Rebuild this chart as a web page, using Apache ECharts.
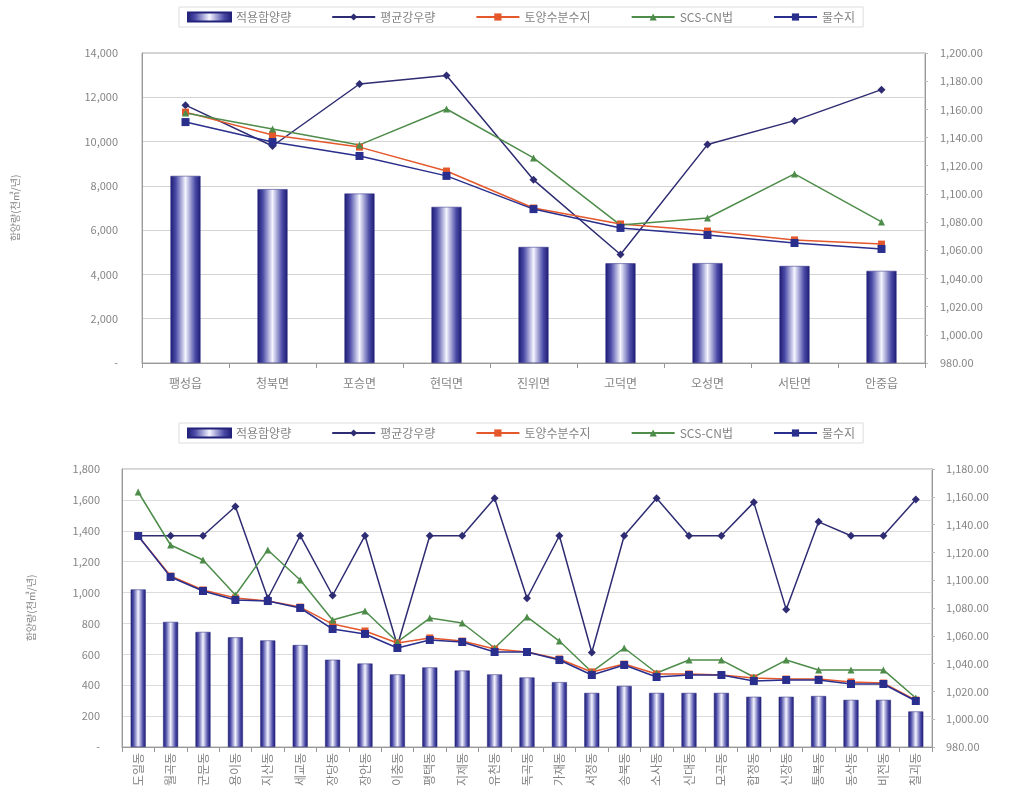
<!DOCTYPE html>
<html>
<head>
<meta charset="utf-8">
<script src="https://cdn.jsdelivr.net/npm/echarts@6/dist/echarts.min.js"></script>
<style>
  html, body { margin: 0; padding: 0; background: #fff; }
  #Chart { width: 1023px; height: 808px; }
</style>
</head>
<body>
<div id="Chart"></div>
<script>
// 읍면 (top)
var topCats = ['팽성읍', '청북면', '포승면', '현덕면', '진위면', '고덕면', '오성면', '서탄면', '안중읍'];
var topRecharge = [8450, 7850, 7650, 7050, 5240, 4500, 4510, 4380, 4160];
var topRain = [1163, 1134, 1178, 1184, 1110, 1057, 1135, 1152, 1174];
var topSoil = [11330, 10300, 9750, 8670, 7000, 6280, 5960, 5560, 5370];
var topScs = [11290, 10570, 9850, 11470, 9260, 6230, 6550, 8540, 6370];
var topWater = [10880, 9980, 9350, 8450, 6950, 6100, 5780, 5420, 5150];

// 동 (bottom)
var botCats = ['도일동', '월곡동', '군문동', '용이동', '지산동', '세교동', '장당동', '장안동', '이충동',
  '평택동', '지제동', '유천동', '독곡동', '가재동', '서정동', '송북동', '소사동', '신대동', '모곡동',
  '합정동', '신장동', '통복동', '동삭동', '비전동', '칠괴동'];
var botRecharge = [1020, 810, 745, 710, 690, 660, 565, 540, 470, 515, 495, 470, 450, 420, 350, 395,
  350, 350, 350, 325, 325, 330, 305, 305, 230];
var botRain = [1132, 1132, 1132, 1153, 1087, 1132, 1089, 1132, 1053, 1132, 1132, 1159, 1087, 1132,
  1048, 1132, 1159, 1132, 1132, 1156, 1079, 1142, 1132, 1132, 1158];
var botSoil = [1366, 1107, 1017, 965, 945, 906, 796, 751, 673, 706, 686, 634, 615, 570, 486, 537,
  473, 473, 466, 447, 440, 440, 421, 414, 304];
var botScs = [1651, 1308, 1211, 984, 1276, 1081, 822, 881, 680, 835, 803, 641, 842, 686, 486, 641,
  479, 563, 563, 453, 563, 499, 499, 499, 317];
var botWater = [1366, 1101, 1010, 952, 945, 900, 764, 732, 641, 693, 680, 615, 615, 563, 466, 531,
  453, 466, 466, 427, 434, 434, 408, 408, 298];

var seriesNames = ['적용함양량', '평균강우량', '토양수분수지', 'SCS-CN법', '물수지'];

var txt = '#858585';
var font = '"Noto Sans CJK KR", "Noto Sans", sans-serif';

var barColor = new echarts.graphic.LinearGradient(0, 0, 1, 0, [
  {offset: 0, color: '#1c1c74'},
  {offset: 0.18, color: '#4c4ca8'},
  {offset: 0.5, color: '#f4f4ff'},
  {offset: 0.82, color: '#4c4ca8'},
  {offset: 1, color: '#1c1c74'}
]);

function fmtInt(v) {
  if (v === 0) return '-';
  return v.toString().replace(/\B(?=(\d{3})+(?!\d))/g, ',');
}
function fmtDec(v) {
  var s = v.toFixed(2).split('.');
  return s[0].replace(/\B(?=(\d{3})+(?!\d))/g, ',') + '.' + s[1];
}

function makeLegend(top) {
  return {
    left: 179,
    top: top,
    padding: [4, 8],
    borderColor: '#ddd',
    borderWidth: 1,
    itemWidth: 43,
    itemHeight: 9,
    itemGap: 40,
    textStyle: {color: txt, fontSize: 12, fontFamily: font},
    data: [
      {name: seriesNames[0], icon: 'rect'},
      seriesNames[1], seriesNames[2], seriesNames[3], seriesNames[4]
    ]
  };
}

function makeSeries(idx, bw, rech, rain, soil, scs, water) {
  var line = function (name, data, color, symbol, size, yIdx) {
    return {
      name: name, type: 'line', xAxisIndex: idx, yAxisIndex: yIdx, data: data,
      symbol: symbol, symbolSize: size, z: 3,
      lineStyle: {color: color, width: 1.5},
      itemStyle: {color: color}
    };
  };
  return [
    {
      name: seriesNames[0], type: 'bar', xAxisIndex: idx, yAxisIndex: idx * 2, data: rech,
      barWidth: bw, itemStyle: {color: barColor, borderColor: '#22227a', borderWidth: 0.5}
    },
    line(seriesNames[1], rain, '#2e2c72', 'diamond', 8, idx * 2 + 1),
    line(seriesNames[2], soil, '#e4582c', 'rect', 7, idx * 2),
    line(seriesNames[3], scs, '#4e8c4a', 'triangle', 7, idx * 2),
    line(seriesNames[4], water, '#2a2e8c', 'rect', 8, idx * 2)
  ];
}

var myChart = echarts.init(document.getElementById('Chart'));

var axisLabelStyle = {color: txt, fontSize: 11, fontFamily: font};

var option = {
  animation: false,
  legend: [makeLegend(7), makeLegend(423)],
  grid: [
    {left: 142, right: 98, top: 53, height: 310, show: true, borderColor: '#aaa', borderWidth: 1},
    {left: 122, right: 91, top: 469, height: 278, show: true, borderColor: '#aaa', borderWidth: 1}
  ],
  xAxis: [
    {
      type: 'category', gridIndex: 0, data: topCats,
      axisLine: {lineStyle: {color: '#999'}},
      axisTick: {show: true, lineStyle: {color: '#999'}},
      axisLabel: {color: txt, fontFamily: font, fontSize: 12, margin: 14}
    },
    {
      type: 'category', gridIndex: 1, data: botCats,
      axisLine: {lineStyle: {color: '#999'}},
      axisTick: {show: true, lineStyle: {color: '#999'}},
      axisLabel: {color: txt, fontFamily: font, fontSize: 12, rotate: 90, margin: 6, interval: 0}
    }
  ],
  yAxis: [
    {
      type: 'value', gridIndex: 0, min: 0, max: 14000, interval: 2000,
      name: '함양량(천㎥/년)', nameLocation: 'middle', nameRotate: 90, nameGap: 122,
      nameTextStyle: {color: txt, fontSize: 10, fontFamily: font},
      axisLine: {show: true, lineStyle: {color: '#999'}},
      axisTick: {show: false},
      splitLine: {lineStyle: {color: '#d4d4d4'}},
      axisLabel: Object.assign({margin: 24, formatter: fmtInt}, axisLabelStyle)
    },
    {
      type: 'value', gridIndex: 0, min: 980, max: 1200, interval: 20, position: 'right',
      axisLine: {show: true, lineStyle: {color: '#999'}},
      axisTick: {show: true, length: 3, lineStyle: {color: '#bbb'}},
      splitLine: {show: false},
      axisLabel: Object.assign({margin: 15, formatter: fmtDec}, axisLabelStyle)
    },
    {
      type: 'value', gridIndex: 1, min: 0, max: 1800, interval: 200,
      name: '함양량(천㎥/년)', nameLocation: 'middle', nameRotate: 90, nameGap: 86,
      nameTextStyle: {color: txt, fontSize: 10, fontFamily: font},
      axisLine: {show: true, lineStyle: {color: '#999'}},
      axisTick: {show: false},
      splitLine: {lineStyle: {color: '#dcdcdc'}},
      axisLabel: Object.assign({margin: 22, formatter: fmtInt}, axisLabelStyle)
    },
    {
      type: 'value', gridIndex: 1, min: 980, max: 1180, interval: 20, position: 'right',
      axisLine: {show: true, lineStyle: {color: '#999'}},
      axisTick: {show: true, length: 3, lineStyle: {color: '#bbb'}},
      splitLine: {show: false},
      axisLabel: Object.assign({margin: 14, formatter: fmtDec}, axisLabelStyle)
    }
  ],
  series: makeSeries(0, 30, topRecharge, topRain, topSoil, topScs, topWater)
    .concat(makeSeries(1, 15, botRecharge, botRain, botSoil, botScs, botWater))
};

myChart.setOption(option);
</script>
</body>
</html>
